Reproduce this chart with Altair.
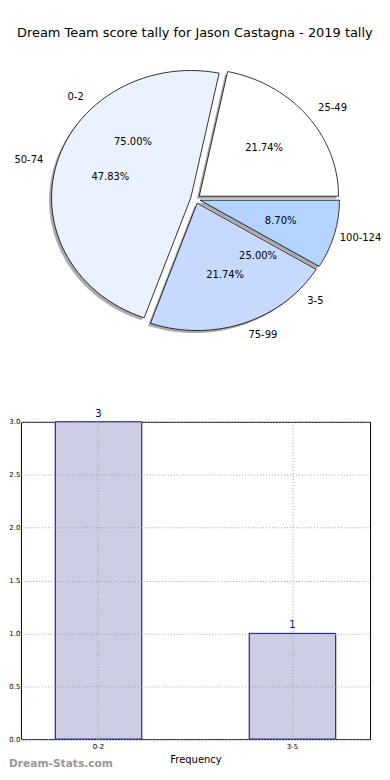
import altair as alt
import pandas as pd

title_text = "Dream Team score tally for Jason Castagna - 2019 tally"
pie_labels = ["25-49", "50-74", "75-99", "100-124"]
pie_values = [5, 11, 5, 2]
pie_colors = ["#ffffff", "#eaf1ff", "#c6d9ff", "#b3d4ff"]
inner_labels = ["0-2", "3-5"]
inner_values = [3, 1]
bar_cats = ["0-2", "3-5"]
bar_freq = [3, 1]
watermark = "Dream-Stats.com"

E = 0.035          # explode
RX, RY = 140, 128  # pixels per unit radius
PIE_W, PIE_H = 353, 300
CX = 175.5
xdom = [-CX / RX, (PIE_W - CX) / RX]
ydom = [-(PIE_H / 2) / RY, (PIE_H / 2) / RY]
FONT = "DejaVu Sans"

outer = pd.DataFrame({"label": pie_labels, "value": pie_values, "idx": list(range(len(pie_labels)))})
inner = pd.DataFrame({"label": inner_labels, "value": inner_values, "idx": list(range(len(inner_labels)))})

xs = alt.Scale(domain=xdom, nice=False, zero=False)
ys = alt.Scale(domain=ydom, nice=False, zero=False)


def angles(ch):
    return (
        ch.transform_window(cum="sum(value)", sort=[alt.SortField("idx")], frame=[None, 0])
        .transform_joinaggregate(total="sum(value)")
        .transform_calculate(a0="2*PI*(datum.cum - datum.value)/datum.total")
        .transform_calculate(a1="2*PI*datum.cum/datum.total")
        .transform_calculate(mid="(datum.a0 + datum.a1)/2")
        .transform_calculate(pct="format(100*datum.value/datum.total, '.2f') + '%'")
    )


def wedge_points(ch, dx=0.0, dy=0.0):
    return (
        angles(ch)
        .transform_calculate(k="sequence(0, 63)")
        .transform_flatten(["k"])
        .transform_calculate(apex="datum.k == 0 || datum.k == 62")
        .transform_calculate(ang="datum.a0 + (datum.a1 - datum.a0) * clamp(datum.k - 1, 0, 60) / 60")
        .transform_calculate(px=f"{E}*cos(datum.mid) + (datum.apex ? 0 : cos(datum.ang)) + ({dx})")
        .transform_calculate(py=f"{E}*sin(datum.mid) + (datum.apex ? 0 : sin(datum.ang)) + ({dy})")
    )


shadow = wedge_points(alt.Chart(outer), -0.018, -0.02).mark_line(
    filled=True, color="#444444", opacity=0.45, strokeWidth=0
).encode(
    x=alt.X("px:Q", scale=xs, axis=None),
    y=alt.Y("py:Q", scale=ys, axis=None),
    order="k:Q",
    detail="label:N",
)

wedges = wedge_points(alt.Chart(outer)).mark_line(
    filled=True, stroke="black", strokeWidth=0.8
).encode(
    x=alt.X("px:Q", scale=xs, axis=None),
    y=alt.Y("py:Q", scale=ys, axis=None),
    order="k:Q",
    color=alt.Color("label:N", scale=alt.Scale(domain=pie_labels, range=pie_colors), legend=None),
)


def pct_layer(df):
    return angles(alt.Chart(df)).transform_calculate(
        tx=f"({E}+0.6)*cos(datum.mid)", ty=f"({E}+0.6)*sin(datum.mid)"
    ).mark_text(font=FONT, fontSize=10, color="black").encode(
        x=alt.X("tx:Q", scale=xs, axis=None),
        y=alt.Y("ty:Q", scale=ys, axis=None),
        text="pct:N",
    )


def label_layers(df):
    base = angles(alt.Chart(df)).transform_calculate(
        tx=f"({E}+1.1)*cos(datum.mid)", ty=f"({E}+1.1)*sin(datum.mid)"
    )
    enc = dict(
        x=alt.X("tx:Q", scale=xs, axis=None),
        y=alt.Y("ty:Q", scale=ys, axis=None),
        text="label:N",
    )
    kw = dict(font=FONT, fontSize=10, baseline="middle", color="black")
    right = base.transform_filter("datum.tx > 0 && datum.tx <= 1.05").mark_text(align="left", **kw).encode(**enc)
    # the far-right label is nudged in so the page does not overflow
    far = base.transform_filter("datum.tx > 1.05").mark_text(align="left", dx=-8, **kw).encode(**enc)
    left = base.transform_filter("datum.tx <= 0").mark_text(align="right", **kw).encode(**enc)
    return [right, far, left]


pie = alt.layer(
    shadow, wedges,
    pct_layer(outer), *label_layers(outer),
    pct_layer(inner), *label_layers(inner),
).properties(width=PIE_W, height=PIE_H)

bar_df = pd.DataFrame({"cat": bar_cats, "freq": bar_freq})

bar_base = alt.Chart(bar_df).encode(
    x=alt.X(
        "cat:N", sort=bar_cats,
        scale=alt.Scale(paddingInner=0.554, paddingOuter=0.177),
        axis=alt.Axis(
            title="Frequency", labelAngle=0, labelFontSize=7, labelFont=FONT, labelColor="black",
            titleFontSize=10, titleFont=FONT, titleFontWeight="normal", titleColor="black",
            titlePadding=5, labelPadding=3,
            grid=True, gridDash=[1, 2], gridColor="#a0a0a0", gridWidth=1,
            ticks=False, domain=False, bandPosition=0.5, zindex=1,
        ),
    ),
    y=alt.Y(
        "freq:Q", scale=alt.Scale(domain=[0, 3], nice=False),
        axis=alt.Axis(
            title=None, values=[0, 0.5, 1, 1.5, 2, 2.5, 3], format=".1f",
            labelFontSize=7, labelFont=FONT, labelColor="black", labelPadding=1,
            grid=True, gridDash=[1, 2], gridColor="#a0a0a0", gridWidth=1,
            ticks=False, domain=False, zindex=1,
        ),
    ),
)

bars = bar_base.mark_bar(fill="#ccccE5", stroke="#000080", strokeWidth=1)
bar_text = bar_base.mark_text(dy=-8, font=FONT, fontSize=10, color="#00008b").encode(text="freq:Q")

wm = alt.Chart(pd.DataFrame({"t": [watermark]})).mark_text(
    align="left", baseline="bottom", font=FONT, fontSize=10.7, fontWeight="bold", color="#969696"
).encode(text="t:N", x=alt.value(-12), y=alt.value(349))

bar_chart = alt.layer(bars, bar_text, wm).properties(
    width=351, height=319, view=alt.ViewBackground(stroke="black", strokeWidth=1)
)

chart = alt.vconcat(pie, bar_chart, spacing=60).properties(
    title=alt.Title(title_text, fontSize=13, font=FONT, fontWeight="normal", anchor="middle", offset=10, color="black"),
    padding={"left": 0, "top": 17, "right": 0, "bottom": 0},
).configure_view(strokeWidth=0)

chart.save("out.html", embed_options={"renderer": "svg", "actions": False})
